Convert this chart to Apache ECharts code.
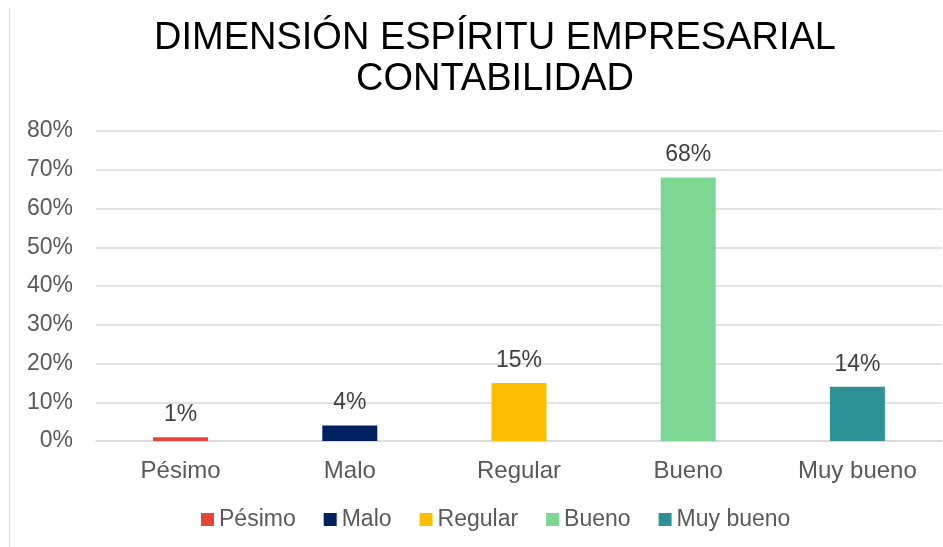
<!DOCTYPE html>
<html><head><meta charset="utf-8">
<script src="https://cdn.jsdelivr.net/npm/echarts@6/dist/echarts.min.js"></script>
<style>html,body{margin:0;padding:0;background:#fff}#c{width:943px;height:547px}</style>
</head><body><div id="c"></div>
<script>
const categories = ['Pésimo', 'Malo', 'Regular', 'Bueno', 'Muy bueno'];
const values = [1, 4, 15, 68, 14];
const colors = ['#E8443A', '#002060', '#FBBE00', '#7CD793', '#2E9196'];
const yTicks = { min: 0, max: 80, interval: 10 };
const titleText = 'DIMENSIÓN ESPÍRITU EMPRESARIAL\nCONTABILIDAD';
const FONT = 'Liberation Sans, Arial, sans-serif';

const chart = echarts.init(document.getElementById('c'));
const series = categories.map((name, i) => ({
  name: name,
  type: 'bar',
  stack: 'all',
  barWidth: 55,
  itemStyle: { color: colors[i] },
  label: { show: true, position: 'top', distance: 11, formatter: p => p.value + '%', color: '#404040', fontSize: 23, fontFamily: FONT },
  data: categories.map((c, j) => j === i ? values[i] : '-')
}));
chart.setOption({
  animation: false,
  graphic: [
    { type: 'rect', shape: { x: 9, y: 8, width: 1, height: 539 }, style: { fill: '#d9d9d9' } },
    { type: 'text', x: 495, y: 18, style: { text: titleText, textAlign: 'center', fill: '#000', fontSize: 38, lineHeight: 41, fontFamily: FONT } }
  ],
  legend: {
    bottom: 11, left: 196, itemWidth: 13, itemHeight: 13, itemGap: 28,
    icon: 'rect',
    textStyle: { fontSize: 23, color: '#595959', fontFamily: FONT },
    data: categories
  },
  grid: { left: 96, right: 1, top: 131, bottom: 106, containLabel: false },
  xAxis: {
    type: 'category', data: categories,
    axisLine: { show: true, lineStyle: { color: '#d9d9d9', width: 1.5 } },
    axisTick: { show: false },
    axisLabel: { fontSize: 24, color: '#595959', margin: 18, fontFamily: FONT }
  },
  yAxis: {
    type: 'value', min: yTicks.min, max: yTicks.max, interval: yTicks.interval,
    axisLine: { show: false }, axisTick: { show: false },
    splitLine: { lineStyle: { color: '#d9d9d9', width: 1.5 } },
    axisLabel: { formatter: '{value}%', fontSize: 23, color: '#595959', margin: 23, fontFamily: FONT }
  },
  series: series
});
</script></body></html>
